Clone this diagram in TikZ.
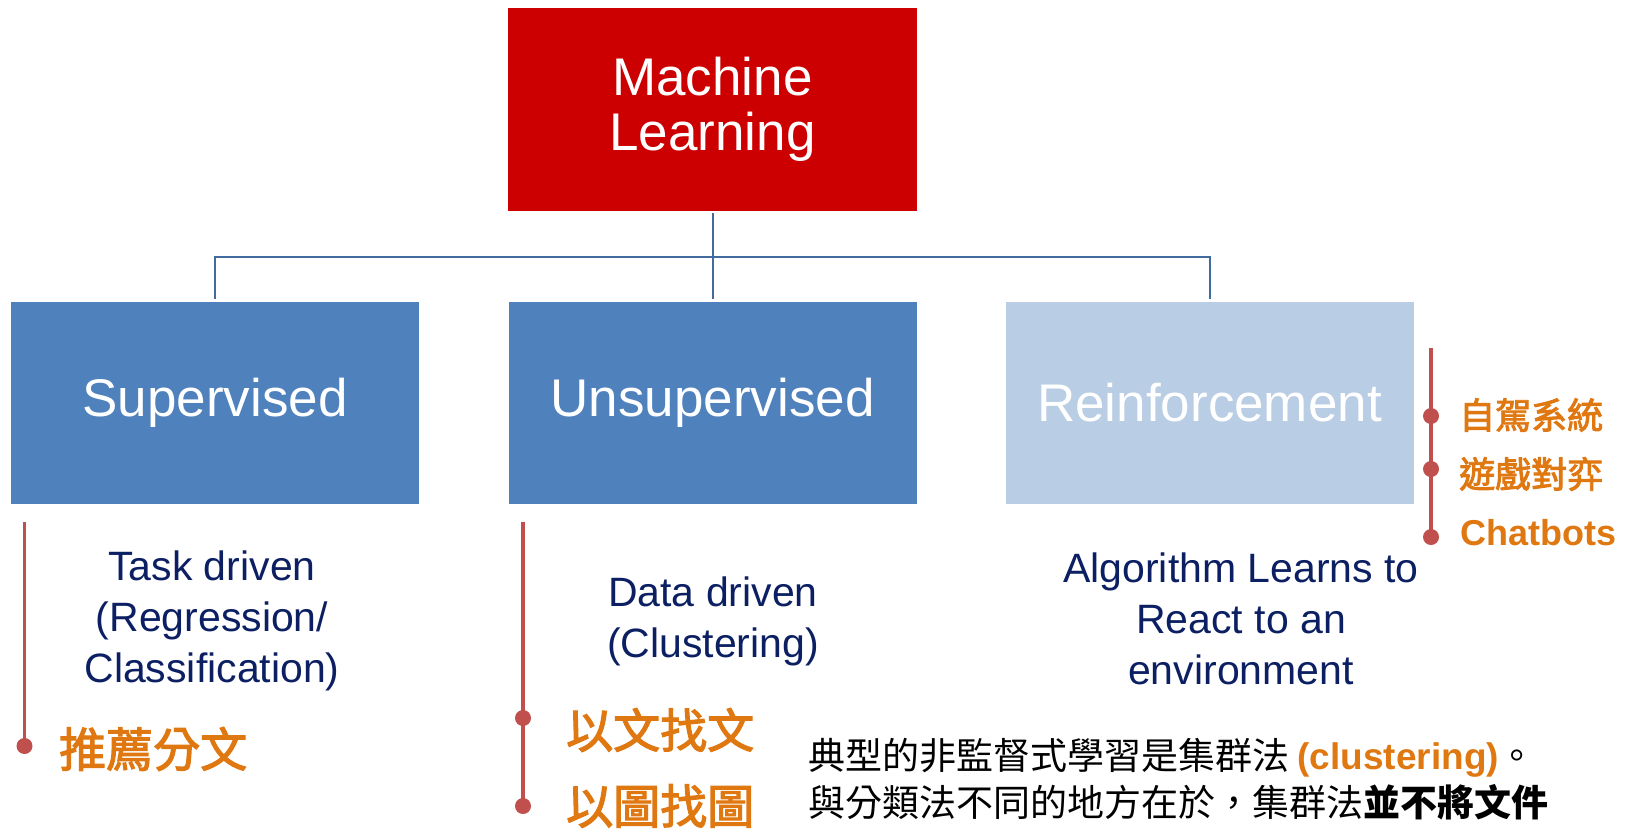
\documentclass[tikz,border=0pt]{standalone}
\usepackage{fontspec}
\setmainfont{Liberation Sans}
\newfontfamily\cjk{Noto Sans CJK TC}
\newfontfamily\cjko{Noto Sans CJK TC}[FakeBold=2.5]
\definecolor{mlred}{HTML}{CC0000}
\definecolor{boxblue}{HTML}{4F81BD}
\definecolor{lightblue}{HTML}{B9CDE5}
\definecolor{connblue}{HTML}{416A9E}
\definecolor{navy}{HTML}{0B1F62}
\definecolor{tlred}{HTML}{C0504D}
\definecolor{orng}{HTML}{E07812}
\tikzset{
  bigbox/.style={rectangle, minimum width=408pt, minimum height=202pt, inner sep=0pt,
     text=white, font=\fontsize{53}{55}\selectfont, align=center},
  conn/.style={draw=connblue, line width=2pt},
  tline/.style={draw=tlred, line width=3.5pt},
  tdot/.style={circle, fill=tlred, minimum size=16pt, inner sep=0pt},
  desc/.style={text=navy, font=\fontsize{41}{51}\selectfont, align=center, inner sep=0pt},
  orbig/.style={text=orng, font=\cjko\fontsize{47}{50}\selectfont, anchor=west, inner sep=0pt},
  orsmall/.style={text=orng, font=\cjko\fontsize{36}{40}\selectfont, anchor=west, inner sep=0pt},
  para/.style={text=black, font=\cjk\fontsize{37}{47}\selectfont, anchor=base west, inner sep=0pt}
}
\begin{document}
\begin{tikzpicture}[x=1pt, y=-1pt]
\useasboundingbox (0,0) rectangle (1625,828);
% boxes
\node[bigbox, fill=mlred, minimum width=409pt, minimum height=203pt] (ml) at (712.5,109.5) {Machine\\Learning};
\node[bigbox, fill=boxblue] (sup) at (215,403) {Supervised};
\node[bigbox, fill=boxblue] (uns) at (712.5,403) {Unsupervised};
\node[bigbox, fill=lightblue] (rein) at (1209.5,403) {Reinforcement};
% connectors
\coordinate (bus) at (712.5,257);
\draw[conn] ([yshift=-2pt]ml.south) -- ([yshift=3pt]uns.north);
\draw[conn] ([yshift=3pt]sup.north) |- (bus) -| ([yshift=3pt]rein.north);
% descriptions
\node[desc] (task) at (212,621) {Task driven\\(Regression/\\Classification)};
\node[desc] (data) at (713,621.5) {Data driven\\(Clustering)};
\node[desc] (algo) at (1241,619) {Algorithm Learns to\\React to an\\environment};
% left timeline
\coordinate (lt) at (24.5,522);
\node[tdot] (ld1) at (24.5,746) {};
\draw[tline] (lt) -- (ld1.center);
\node[orbig] (rec) at (59,749) {推薦分文};
% middle timeline
\coordinate (mt) at (523,522);
\node[tdot] (md1) at (523,718) {};
\node[tdot] (md2) at (523,806) {};
\draw[tline] (mt) -- (md1.center) -- (md2.center);
\node[orbig] (txt) at (566,730) {以文找文};
\node[orbig] (img) at (566,806) {以圖找圖};
% right timeline
\coordinate (rt) at (1431,348);
\node[tdot] (rd1) at (1431,416) {};
\node[tdot] (rd2) at (1431,469) {};
\node[tdot] (rd3) at (1431,537) {};
\draw[tline] (rt) -- (rd1.center) -- (rd2.center) -- (rd3.center);
\node[orsmall] (auto) at (1459,415) {自駕系統};
\node[orsmall] (game) at (1459,474) {遊戲對弈};
\node[orsmall, font=\bfseries\fontsize{36}{40}\selectfont] (chat) at (1460,533) {Chatbots};
% paragraph
\node[para] (p1) at (808,769) {典型的非監督式學習是集群法 {\rmfamily\bfseries\color{orng}(clustering)}。};
\node[para] (p2) at (808,816) {與分類法不同的地方在於，集群法{\bfseries 並不將文件}};
\end{tikzpicture}
\end{document}
